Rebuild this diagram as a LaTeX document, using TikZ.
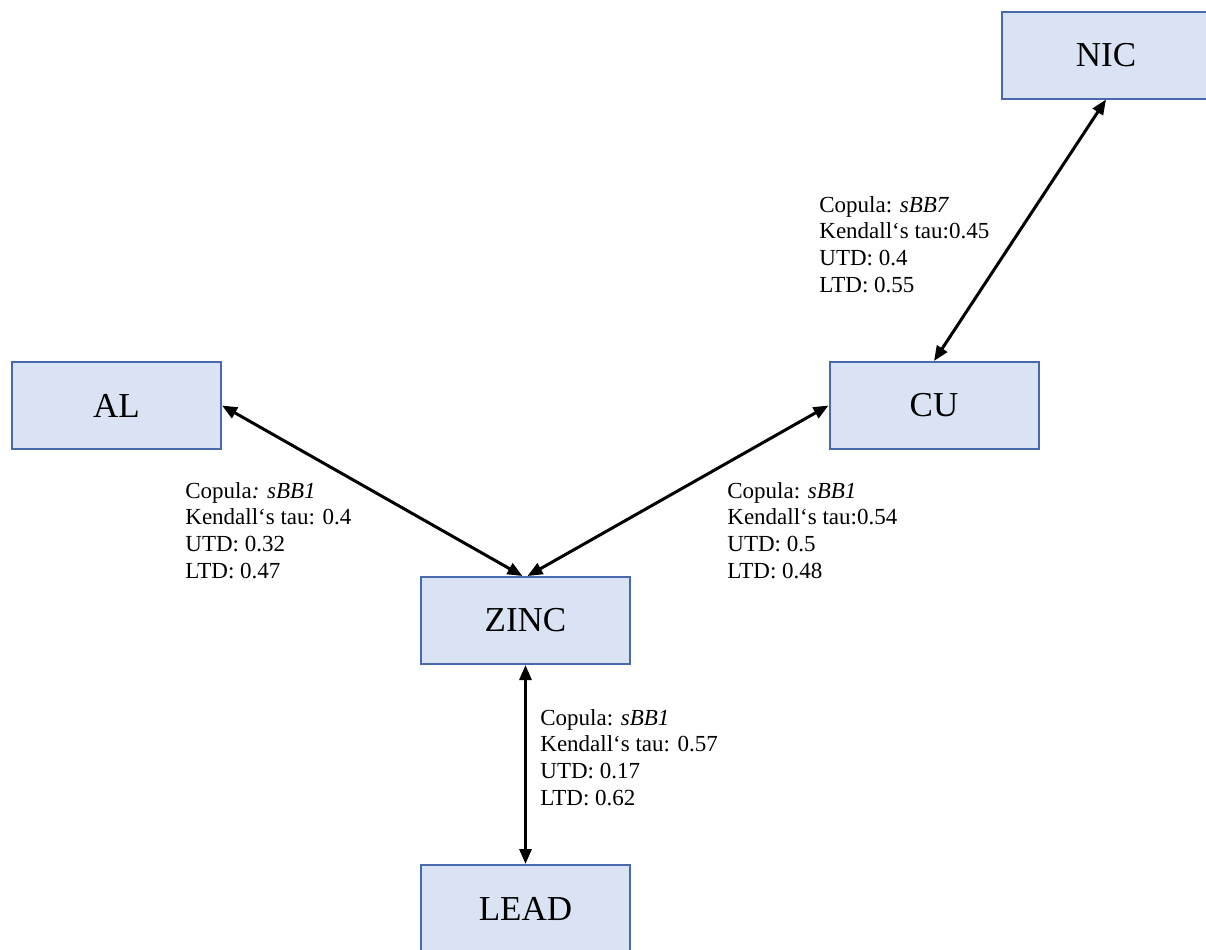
\documentclass[tikz,border=0pt]{standalone}
\usepackage{fontspec}
\setmainfont{Liberation Serif}
\usetikzlibrary{arrows.meta,positioning,calc}
\definecolor{boxfill}{RGB}{218,227,243}
\definecolor{boxline}{RGB}{72,106,172}

\begin{document}
\begin{tikzpicture}[x=0.5pt,y=-0.5pt,
  metal/.style={draw=boxline,fill=boxfill,line width=1pt,minimum width=104.5pt,
    minimum height=43.5pt,font=\fontsize{17.5}{20}\selectfont},
  copinfo/.style={anchor=north west,align=left,inner sep=0pt,
    font=\fontsize{11.5}{13.3}\selectfont},
  link/.style={{Triangle[length=7.5pt,width=6pt]}-{Triangle[length=7.5pt,width=6pt]},
    line width=1.5pt}]
  \useasboundingbox (0,0) rectangle (1206,949);
  % metals (1px = 0.5pt)
  \node[metal] (nic)  at (1106,55)    {NIC};
  \node[metal] (al)   at (116.5,405.5) {AL};
  \node[metal] (cu)   at (934,405.5)  {CU};
  \node[metal] (zinc) at (525.5,620.5) {ZINC};
  \node[metal] (lead) at (525.5,908.5) {LEAD};
  % dependence links
  \draw[link] (nic.south) -- (cu.north);
  \draw[link] (al.east) -- ($(zinc.north)+(-3,0)$);
  \draw[link] (cu.west) -- ($(zinc.north)+(2,0)$);
  \draw[link] (zinc.south) -- (lead.north);
  % copula fits
  \node[copinfo] (nicu) at (819,196)
    {Copula: \textit{sBB7}\\Kendall‘s tau:0.45\\UTD: 0.4\\LTD: 0.55};
  \node[copinfo] (alzn) at (185,482)
    {Copula\textit{: sBB1}\\Kendall‘s tau: 0.4\\UTD: 0.32\\LTD: 0.47};
  \node[copinfo] (cuzn) at (727,482)
    {Copula: \textit{sBB1}\\Kendall‘s tau:0.54\\UTD: 0.5\\LTD: 0.48};
  \node[copinfo] (znpb) at (540,709)
    {Copula: \textit{sBB1}\\Kendall‘s tau: 0.57\\UTD: 0.17\\LTD: 0.62};
\end{tikzpicture}
\end{document}
